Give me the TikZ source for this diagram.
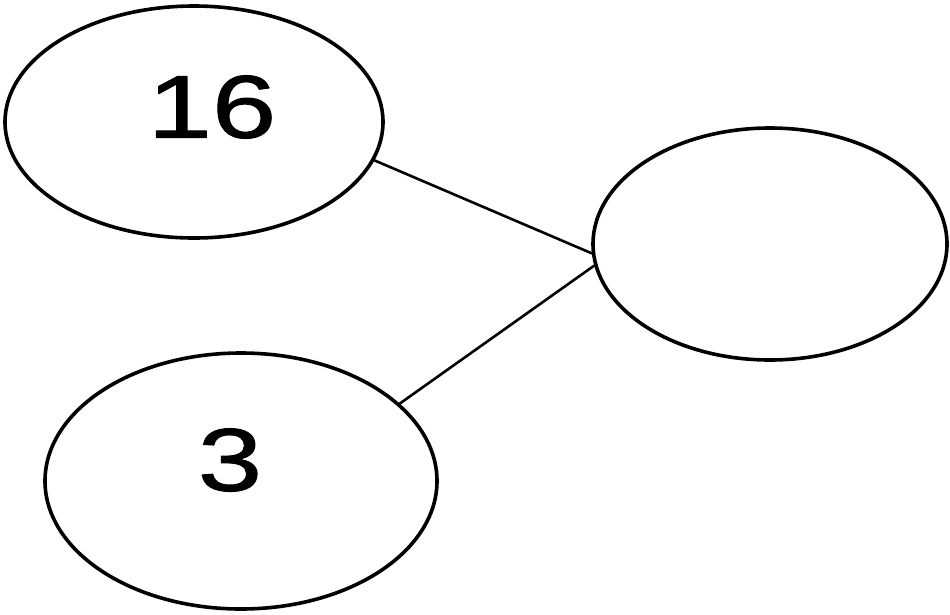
\documentclass[tikz,border=0pt]{standalone}
\usepackage{fontspec}
\setmainfont{Liberation Sans}
\newfontfamily\digitfont[FakeStretch=1.3,FakeBold=1.2]{Liberation Sans}
\usetikzlibrary{shapes.geometric}
\tikzset{
  oval/.style={draw, ellipse, line width=3.6pt, inner sep=0pt},
  so/.style={font=\digitfont\fontsize{89}{89}\selectfont}
}
\begin{document}
\begin{tikzpicture}[line join=round, line cap=round, x=1pt, y=-1pt]
    \useasboundingbox (0,0) rectangle (950,614);
    \node[oval, minimum width=378pt, minimum height=232pt] (A) at (194,122) {};
    \node[oval, minimum width=354pt, minimum height=232pt] (B) at (770,244) {};
    \node[oval, minimum width=392pt, minimum height=256pt] (C) at (241,481) {};
    \node[so] (sA) at (212,107) {16};
    \node[so] (sC) at (230,460) {3};
    \draw[line width=2.6pt] (A.-12.5) -- (B.183.6);
    \draw[line width=2.6pt] (C.26.9) -- (B.187.6);
\end{tikzpicture}
\end{document}
